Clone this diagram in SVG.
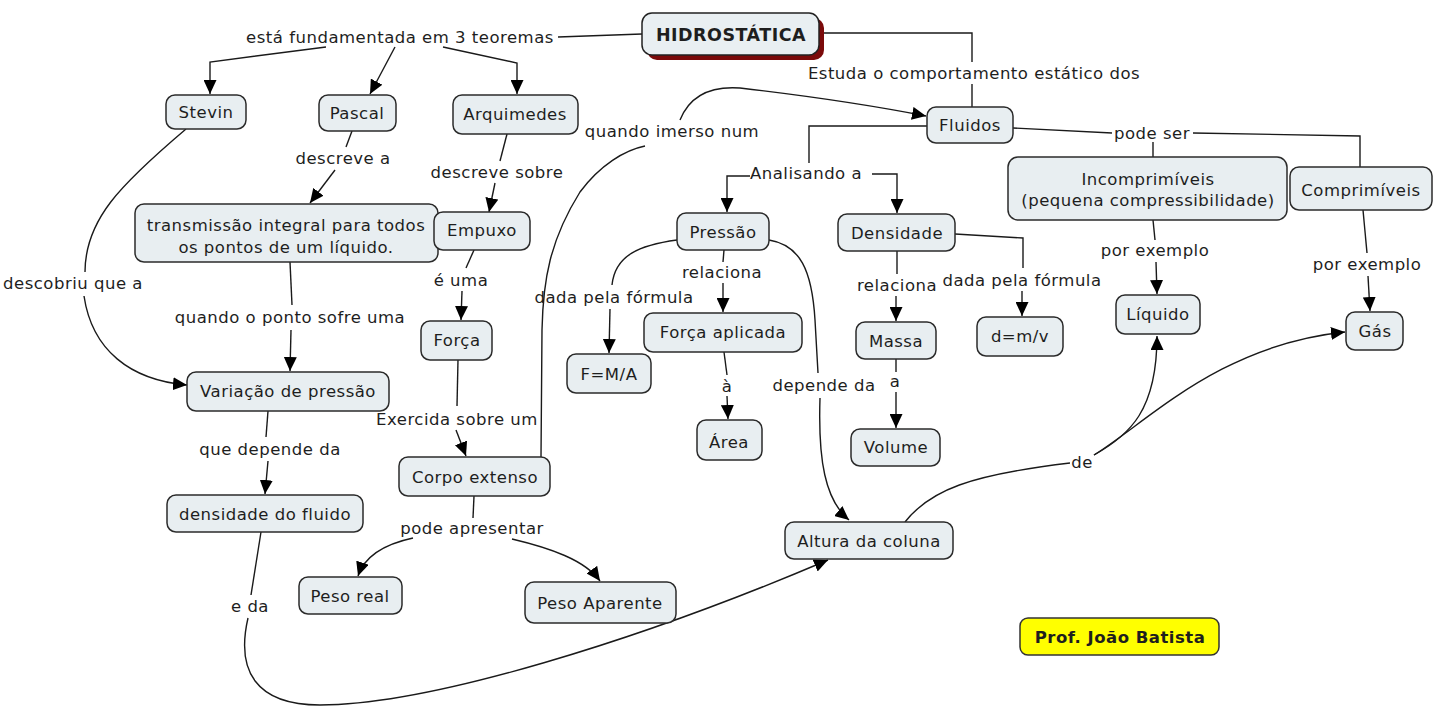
<svg xmlns="http://www.w3.org/2000/svg" width="1440" height="709" viewBox="0 0 1440 709">
<defs>
<marker id="ah" viewBox="0 0 10 10" refX="10" refY="5" markerWidth="14" markerHeight="13" markerUnits="userSpaceOnUse" orient="auto" preserveAspectRatio="none"><path d="M0,0L10,5L0,10z" fill="#000"/></marker>
</defs>
<style>
.n rect{fill:#e8eef1;stroke:#2b2b2b;stroke-width:1.5}
text{font-family:"DejaVu Sans",Verdana,sans-serif;font-size:16.5px;letter-spacing:0.5px;fill:#1e1e1e;text-anchor:middle}
.c path{fill:none;stroke:#1a1a1a;stroke-width:1.4}
.c .a{marker-end:url(#ah)}
.b{font-weight:bold}
</style>
<rect width="1440" height="709" fill="#fff"/>
<g id="connectors" class="c">
<path d="M642,34 L558,37"/>
<path class="a" d="M326,47 L210,62 L210,94"/>
<path class="a" d="M395,47 L370,94"/>
<path class="a" d="M443,47 L517,63 L517,94"/>
<path d="M818,33 L972,33 L972,62"/>
<path d="M972,84 L972,107"/>
<path d="M1013,128 L1112,133"/>
<path d="M1153,142 L1153,157"/>
<path d="M1193,133 L1360,136 L1360,167"/>
<path d="M927,126 L809,126 L809,163"/>
<path class="a" d="M750,176 L727,176 L727,212"/>
<path class="a" d="M872,174 L897,174 L897,213"/>
<path d="M186,129 C120,185 85,220 85,272"/>
<path class="a" d="M84,296 C92,350 130,380 187,385"/>
<path d="M352,131 L346,147"/>
<path class="a" d="M335,170 L310,203"/>
<path d="M507,134 L500,161"/>
<path class="a" d="M495,183 L489,212"/>
<path d="M290,262 L292,305"/>
<path class="a" d="M291,330 L290,371"/>
<path d="M474,250 L466,268"/>
<path class="a" d="M462,291 L461,320"/>
<path d="M458,360 L457,406"/>
<path class="a" d="M456,430 L466,456"/>
<path d="M541,457 L542,330 C543,280 550,240 580,192 C600,165 625,150 645,146"/>
<path class="a" d="M680,120 C690,95 712,86 740,88 C800,95 870,105 926,116"/>
<path d="M268,411 L266,437"/>
<path class="a" d="M268,461 L265,494"/>
<path d="M261,532 L251,595"/>
<path class="a" d="M248,618 C236,670 255,705 320,705 C430,705 640,640 828,560"/>
<path d="M474,496 L473,518"/>
<path class="a" d="M413,538 C385,544 365,555 358,576"/>
<path class="a" d="M512,539 C550,548 585,560 600,581"/>
<path d="M677,240 C640,245 615,255 612,285"/>
<path class="a" d="M610,309 L609,353"/>
<path d="M724,250 L723,262"/>
<path class="a" d="M723,283 L723,312"/>
<path d="M769,240 C800,245 812,270 815,320 L818,373"/>
<path class="a" d="M820,398 C818,460 825,500 849,520"/>
<path d="M724,352 L727,375"/>
<path class="a" d="M727,396 L728,419"/>
<path d="M897,251 L897,274"/>
<path class="a" d="M896,296 L896,321"/>
<path d="M955,234 L1023,238 L1023,268"/>
<path class="a" d="M1022,291 L1022,316"/>
<path d="M896,359 L896,372"/>
<path class="a" d="M896,392 L896,428"/>
<path d="M1153,220 L1155,240"/>
<path class="a" d="M1156,262 L1157,294"/>
<path d="M1363,210 L1367,253"/>
<path class="a" d="M1368,276 L1370,311"/>
<path d="M905,522 C930,490 970,475 1070,463"/>
<path class="a" d="M1094,455 C1130,435 1157,410 1157,336"/>
<path class="a" d="M1094,455 C1150,420 1220,345 1345,332"/>
</g>
<g id="labels">
<text x="400" y="43">está fundamentada em 3 teoremas</text>
<text x="974" y="79">Estuda o comportamento estático dos</text>
<text x="1152" y="139">pode ser</text>
<text x="806" y="179">Analisando a</text>
<text x="73" y="289">descobriu que a</text>
<text x="343" y="164">descreve a</text>
<text x="497" y="178">descreve sobre</text>
<text x="290" y="323">quando o ponto sofre uma</text>
<text x="461" y="286">é uma</text>
<text x="457" y="425">Exercida sobre um</text>
<text x="672" y="137">quando imerso num</text>
<text x="270" y="455">que depende da</text>
<text x="250" y="612">e da</text>
<text x="472" y="534">pode apresentar</text>
<text x="614" y="303">dada pela fórmula</text>
<text x="722" y="278">relaciona</text>
<text x="824" y="391">depende da</text>
<text x="727" y="392">à</text>
<text x="897" y="291">relaciona</text>
<text x="1022" y="286">dada pela fórmula</text>
<text x="895" y="387">a</text>
<text x="1155" y="256">por exemplo</text>
<text x="1367" y="270">por exemplo</text>
<text x="1082" y="468">de</text>
</g>
<g id="hidrostatica">
<rect x="647" y="18" width="177" height="42" rx="10" fill="#7b0a0a"/>
<rect x="642" y="13" width="177" height="42" rx="10" fill="#e9eff2" stroke="#222" stroke-width="1.5"/>
<text class="b" x="731" y="41" style="font-size:17.5px">HIDROSTÁTICA</text>
</g>
<g id="stevin" class="n"><rect x="166" y="95" width="80" height="34" rx="9"/><text x="206" y="118">Stevin</text></g>
<g id="pascal" class="n"><rect x="319" y="95" width="77" height="36" rx="9"/><text x="357" y="119">Pascal</text></g>
<g id="arquimedes" class="n"><rect x="453" y="95" width="125" height="39" rx="9"/><text x="515" y="120">Arquimedes</text></g>
<g id="fluidos" class="n"><rect x="927" y="107" width="86" height="36" rx="9"/><text x="970" y="131">Fluidos</text></g>
<g id="transmissao" class="n"><rect x="135" y="204" width="303" height="58" rx="9"/><text x="286" y="231">transmissão integral para todos</text><text x="286" y="253">os pontos de um líquido.</text></g>
<g id="empuxo" class="n"><rect x="434" y="212" width="96" height="38" rx="9"/><text x="482" y="236">Empuxo</text></g>
<g id="pressao" class="n"><rect x="677" y="213" width="92" height="37" rx="9"/><text x="723" y="238">Pressão</text></g>
<g id="densidade" class="n"><rect x="838" y="214" width="117" height="37" rx="9"/><text x="897" y="239">Densidade</text></g>
<g id="incomprimiveis" class="n"><rect x="1008" y="157" width="279" height="63" rx="10"/><text x="1148" y="185">Incomprimíveis</text><text x="1148" y="206">(pequena compressibilidade)</text></g>
<g id="comprimiveis" class="n"><rect x="1290" y="167" width="142" height="43" rx="9"/><text x="1361" y="196">Comprimíveis</text></g>
<g id="forca" class="n"><rect x="421" y="321" width="71" height="39" rx="9"/><text x="457" y="346">Força</text></g>
<g id="variacao" class="n"><rect x="187" y="372" width="202" height="39" rx="9"/><text x="288" y="397">Variação de pressão</text></g>
<g id="forca-aplicada" class="n"><rect x="644" y="313" width="158" height="39" rx="9"/><text x="723" y="338">Força aplicada</text></g>
<g id="fma" class="n"><rect x="567" y="354" width="84" height="39" rx="9"/><text x="609" y="380">F=M/A</text></g>
<g id="massa" class="n"><rect x="856" y="322" width="80" height="37" rx="9"/><text x="896" y="347">Massa</text></g>
<g id="dmv" class="n"><rect x="977" y="317" width="86" height="39" rx="9"/><text x="1020" y="342">d=m/v</text></g>
<g id="liquido" class="n"><rect x="1116" y="295" width="84" height="39" rx="9"/><text x="1158" y="320">Líquido</text></g>
<g id="gas" class="n"><rect x="1346" y="312" width="57" height="38" rx="9"/><text x="1375" y="337">Gás</text></g>
<g id="area" class="n"><rect x="697" y="420" width="65" height="40" rx="9"/><text x="729" y="448">Área</text></g>
<g id="volume" class="n"><rect x="851" y="429" width="89" height="37" rx="9"/><text x="896" y="453">Volume</text></g>
<g id="corpo" class="n"><rect x="399" y="457" width="151" height="39" rx="9"/><text x="475" y="483">Corpo extenso</text></g>
<g id="densidade-fluido" class="n"><rect x="167" y="495" width="196" height="37" rx="9"/><text x="265" y="520">densidade do fluido</text></g>
<g id="altura" class="n"><rect x="785" y="522" width="168" height="37" rx="9"/><text x="869" y="547">Altura da coluna</text></g>
<g id="peso-real" class="n"><rect x="299" y="577" width="103" height="37" rx="9"/><text x="350" y="602">Peso real</text></g>
<g id="peso-aparente" class="n"><rect x="525" y="582" width="151" height="41" rx="9"/><text x="600" y="609">Peso Aparente</text></g>
<g id="prof"><rect x="1020" y="618" width="199" height="37" rx="8" fill="#ffff00" stroke="#333" stroke-width="1.5"/><text class="b" x="1120" y="643">Prof. João Batista</text></g>
</svg>
